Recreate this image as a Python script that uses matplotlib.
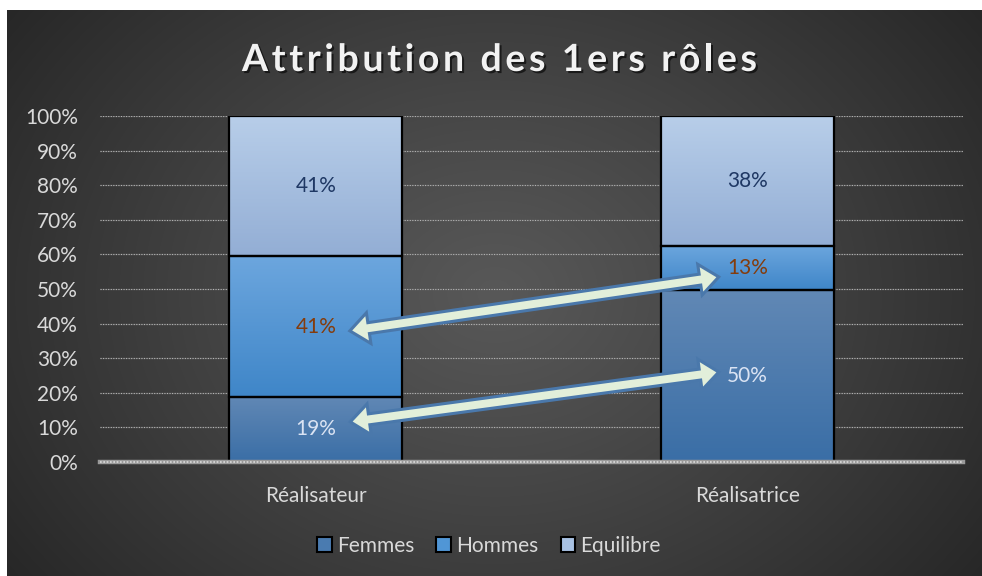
import numpy as np
import matplotlib
matplotlib.use("Agg")
import matplotlib.pyplot as plt
from matplotlib.patches import Polygon, Patch
from matplotlib.transforms import IdentityTransform
from matplotlib.colors import to_rgb
from matplotlib.font_manager import FontProperties, findfont
from matplotlib import ft2font
import matplotlib.patheffects as pe

plt.rcParams['font.family'] = ['Lato', 'DejaVu Sans']

# ---------------- data ----------------
title = "Attribution des 1ers rôles"
categories = ["Réalisateur", "Réalisatrice"]
series_names = ["Femmes", "Hommes", "Equilibre"]
femmes = [18.8, 49.6]
hommes = [40.6, 12.9]
equilibre = [40.6, 37.5]
labels_femmes = ["19%", "50%"]
labels_hommes = ["41%", "13%"]
labels_equilibre = ["41%", "38%"]
y_ticks = [0, 10, 20, 30, 40, 50, 60, 70, 80, 90, 100]
y_tick_labels = ["0%", "10%", "20%", "30%", "40%", "50%", "60%", "70%", "80%", "90%", "100%"]
# double arrows (annotation), data coords: start -> end
arrow_starts = [(0.079, 37.9), (0.080, 11.6)]
arrow_ends = [(0.934, 53.5), (0.934, 26.0)]

# ---------------- style ----------------
W, H = 982, 576
fig = plt.figure(figsize=(W / 100, H / 100), dpi=100)
fig.patch.set_facecolor('white')

# background with radial gradient
bg = fig.add_axes([7 / W, 0, (W - 7) / W, (H - 10) / H])
bg.axis('off')
bh, bw = 566, 975
yy, xx = np.mgrid[0:bh, 0:bw]
r = np.sqrt(((xx - bw * 0.5) / (bw * 0.62)) ** 2 + ((yy - bh * 0.5) / (bh * 0.85)) ** 2)
r = np.clip(r, 0, 1) ** 1.1
v = (0x58 / 255) * (1 - r) + (0x27 / 255) * r
bg.imshow(np.dstack([v, v, v]), aspect='auto', extent=[0, 1, 0, 1], interpolation='bilinear')
bg.set_xlim(0, 1)
bg.set_ylim(0, 1)

ax = fig.add_axes([100 / W, 1 - 462 / H, 863 / W, 346 / H])
ax.patch.set_alpha(0)
for s in ax.spines.values():
    s.set_visible(False)

x = np.arange(len(categories))
bar_w = 0.4
series = [
    (femmes, labels_femmes, '#6188b5', '#3a6ea6', '#dae3f3'),
    (hommes, labels_hommes, '#6ca6de', '#3f86c8', '#843c0c'),
    (equilibre, labels_equilibre, '#b8cee9', '#93aed5', '#1f3864'),
]
bottoms = np.zeros(len(categories))
for vals, labs, ctop, cbot, lcol in series:
    vals = np.array(vals)
    bars = ax.bar(x, vals, bar_w, bottom=bottoms, color=cbot, edgecolor='none', zorder=2)
    top = np.array(to_rgb(ctop))
    bot = np.array(to_rgb(cbot))
    for b in bars:
        g = np.linspace(0, 1, 100)[:, None, None]
        arr = top[None, None, :] * (1 - g) + bot[None, None, :] * g
        im = ax.imshow(arr, extent=[b.get_x(), b.get_x() + b.get_width(), b.get_y(), b.get_y() + b.get_height()],
                       aspect='auto', origin='upper', zorder=2.5, interpolation='bilinear')
        im.set_clip_path(b)
    ax.bar(x, vals, bar_w, bottom=bottoms, facecolor='none', edgecolor='black', lw=1.6, zorder=3)
    for xi, b0, vv, lab in zip(x, bottoms, vals, labs):
        ax.text(xi, b0 + vv / 2, lab, ha='center', va='center', color=lcol, fontsize=15, zorder=6)
    bottoms = bottoms + vals

ax.set_xlim(-0.5, 1.5)
ax.set_ylim(0, 100)
ax.set_aspect('auto')
ax.set_yticks(y_ticks)
ax.set_yticklabels(y_tick_labels)
ax.set_xticks(x)
ax.set_xticklabels(categories)
ax.tick_params(axis='y', length=0, pad=16, labelsize=15, labelcolor='#d9d9d9')
ax.tick_params(axis='x', length=0, pad=17, labelsize=15, labelcolor='#d9d9d9')

for t in y_ticks[1:]:
    ax.axhline(t, color='#6a6a6a', lw=1.0, alpha=0.5, zorder=1)
    ax.axhline(t, color='#b5b5b5', lw=0.8, ls=(0, (1, 1.3)), zorder=1.2)
ax.axhline(0, color='#9a9a9a', lw=3.2, zorder=4, clip_on=False)
ax.axhline(0, color='#dcdcdc', lw=1.2, ls=(0, (1, 1)), zorder=4.1, clip_on=False)

# legend
handles = [Patch(facecolor=c, edgecolor='black', lw=1.5) for c in ['#4a7bb0', '#5096d6', '#a8c1e2']]
fig.legend(handles, series_names, loc='center', bbox_to_anchor=(489 / W, 1 - 546 / H), ncol=3,
           frameon=False, handlelength=0.7, handleheight=0.7, handletextpad=0.25,
           columnspacing=1.07, fontsize=15, labelcolor='#d9d9d9')

# title with letter spacing
fp = FontProperties(family='Lato', weight='bold', size=27)
font = ft2font.FT2Font(findfont(fp))
font.set_size(27, 100)
try:
    flags = ft2font.LoadFlags.NO_HINTING
except AttributeError:
    flags = ft2font.LOAD_NO_HINTING
adv = [font.load_char(ord(c), flags=flags).linearHoriAdvance / 65536 for c in title]
target_w = 515
natural = sum(adv)
spacing = (target_w - natural) / (len(title) - 1)
xpix = 242
for c, a in zip(title, adv):
    fig.text(xpix / W, 1 - 71 / H, c, fontproperties=fp, color='#f2f2f2', ha='left', va='baseline',
             path_effects=[pe.withSimplePatchShadow(offset=(1.5, -1.5), shadow_rgbFace='black', alpha=0.6)])
    xpix += a + spacing

# double arrows
def fat_double_arrow(p0, p1, shaft=11, head_w=31, head_l=19):
    P0 = ax.transData.transform(p0)
    P1 = ax.transData.transform(p1)
    d = P1 - P0
    u = d / np.hypot(*d)
    n = np.array([-u[1], u[0]])
    pts = [P0,
           P0 + u * head_l + n * head_w / 2, P0 + u * head_l + n * shaft / 2,
           P1 - u * head_l + n * shaft / 2, P1 - u * head_l + n * head_w / 2,
           P1,
           P1 - u * head_l - n * head_w / 2, P1 - u * head_l - n * shaft / 2,
           P0 + u * head_l - n * shaft / 2, P0 + u * head_l - n * head_w / 2]
    poly = Polygon(pts, closed=True, transform=IdentityTransform(), facecolor='#e2efda',
                   edgecolor='#4a78ab', lw=2.2, joinstyle='miter', zorder=5)
    fig.add_artist(poly)

for p0, p1 in zip(arrow_starts, arrow_ends):
    fat_double_arrow(p0, p1)

fig.savefig('out.png', dpi=100, facecolor=fig.get_facecolor())
